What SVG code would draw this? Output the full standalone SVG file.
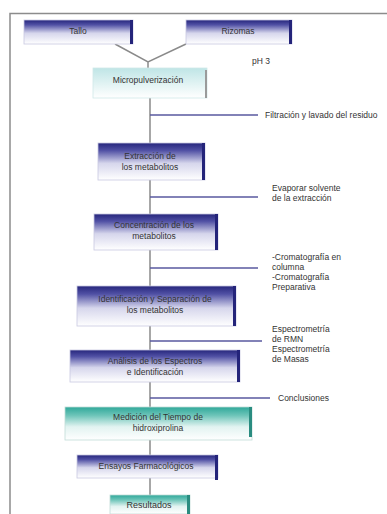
<svg xmlns="http://www.w3.org/2000/svg" width="387" height="514" viewBox="0 0 387 514">
<defs>
<linearGradient id="gBlue" x1="0" y1="0" x2="0" y2="1">
<stop offset="0" stop-color="#26267c"/>
<stop offset="0.2" stop-color="#5050a4"/>
<stop offset="0.55" stop-color="#d6d6ec"/>
<stop offset="1" stop-color="#ffffff"/>
</linearGradient>
<linearGradient id="gTeal" x1="0" y1="0" x2="0" y2="1">
<stop offset="0" stop-color="#2fa89a"/>
<stop offset="0.25" stop-color="#6cc4b8"/>
<stop offset="0.6" stop-color="#e2f3f1"/>
<stop offset="1" stop-color="#ffffff"/>
</linearGradient>
<linearGradient id="gCyan" x1="0" y1="0" x2="0" y2="1">
<stop offset="0" stop-color="#bfe5e6"/>
<stop offset="0.6" stop-color="#e6f5f5"/>
<stop offset="1" stop-color="#ffffff"/>
</linearGradient>
<style>
.t{font-family:"Liberation Sans",Arial,sans-serif;font-size:8.5px;fill:#333;}
.c{text-anchor:middle;}
.bb{fill:url(#gBlue);stroke:#c8c8e0;stroke-width:0.8;}
.bt{fill:url(#gTeal);stroke:#c0dcd8;stroke-width:0.8;}
.bc{fill:url(#gCyan);stroke:#d0e8e8;stroke-width:0.8;}
.eb{fill:#24247a;}
.et{fill:#2a8c80;}
.eg{fill:#9a9a9a;}
.ln{stroke:#8a8a8a;stroke-width:1.5;fill:none;}
.br{stroke:#5a5aa0;stroke-width:1.5;fill:none;}
.fr{stroke:#8c8c8c;stroke-width:1.5;fill:none;}
</style>
</defs>
<path class="fr" d="M10,514 V13.5 H387"/>
<g id="connectors">
<path class="ln" d="M115,44 L148,62 L186,44 M148,62 V68"/>
<path class="ln" d="M150,98 V143 M150,180 V214 M150,250 V286 M150,326 V350 M150,382 V407 M150,440 V455 M150,478 V495"/>
<path class="br" d="M150,115 H258 M150,197 H258 M150,268 H258 M150,341 H262 M150,398 H270"/>
</g>
<g id="n_tallo">
<rect class="bb" x="24" y="20" width="109" height="24"/>
<rect class="eb" x="130" y="20" width="3" height="24"/>
<text class="t c" x="78" y="34">Tallo</text>
</g>
<g id="n_rizomas">
<rect class="bb" x="186" y="20" width="106" height="24"/>
<rect class="eb" x="289" y="20" width="3" height="24"/>
<text class="t c" x="238" y="34">Rizomas</text>
</g>
<g id="lbl_ph"><text class="t" x="252" y="64">pH 3</text></g>
<g id="n_micro">
<rect class="bc" x="93" y="68" width="114" height="30"/>
<rect class="eg" x="205" y="70" width="2" height="28"/>
<text class="t c" x="148" y="83">Micropulverización</text>
</g>
<g id="lbl_filtr"><text class="t" x="265" y="118">Filtración y lavado del residuo</text></g>
<g id="n_extr">
<rect class="bb" x="98" y="143" width="107" height="37"/>
<rect class="eb" x="202" y="143" width="3" height="37"/>
<text class="t c" x="150" y="159">Extracción de</text>
<text class="t c" x="150" y="170">los metabolitos</text>
</g>
<g id="lbl_evap">
<text class="t" x="272" y="191">Evaporar solvente</text>
<text class="t" x="272" y="201">de la extracción</text>
</g>
<g id="n_conc">
<rect class="bb" x="94" y="214" width="124" height="36"/>
<rect class="eb" x="215" y="214" width="3" height="36"/>
<text class="t c" x="154" y="228">Concentración de los</text>
<text class="t c" x="154" y="239">metabolitos</text>
</g>
<g id="lbl_crom">
<text class="t" x="272" y="260">-Cromatografía en</text>
<text class="t" x="272" y="270">columna</text>
<text class="t" x="272" y="280">-Cromatografía</text>
<text class="t" x="272" y="290">Preparativa</text>
</g>
<g id="n_ident">
<rect class="bb" x="77" y="286" width="159" height="40"/>
<rect class="eb" x="233" y="286" width="3" height="40"/>
<text class="t c" x="155" y="302">Identificación y Separación de</text>
<text class="t c" x="155" y="313">los metabolitos</text>
</g>
<g id="lbl_espec">
<text class="t" x="272" y="332">Espectrometría</text>
<text class="t" x="272" y="342">de RMN</text>
<text class="t" x="272" y="352">Espectrometría</text>
<text class="t" x="272" y="362">de Masas</text>
</g>
<g id="n_anal">
<rect class="bb" x="70" y="350" width="170" height="32"/>
<rect class="eb" x="237" y="350" width="3" height="32"/>
<text class="t c" x="155" y="364">Análisis de los Espectros</text>
<text class="t c" x="155" y="375">e Identificación</text>
</g>
<g id="lbl_concl"><text class="t" x="278" y="401">Conclusiones</text></g>
<g id="n_medic">
<rect class="bt" x="65" y="407" width="187" height="33"/>
<rect class="et" x="249" y="407" width="3" height="30"/>
<text class="t c" x="158" y="420">Medición del Tiempo de</text>
<text class="t c" x="158" y="431">hidroxiprolina</text>
</g>
<g id="n_ensayo">
<rect class="bb" x="77" y="455" width="141" height="23"/>
<rect class="eb" x="215" y="455" width="3" height="25"/>
<text class="t c" x="146" y="469">Ensayos Farmacológicos</text>
</g>
<g id="n_result">
<rect class="bt" x="110" y="495" width="80" height="19"/>
<rect class="et" x="187" y="495" width="3" height="19"/>
<text class="t c" x="149" y="508" style="font-size:9px">Resultados</text>
</g>
</svg>
